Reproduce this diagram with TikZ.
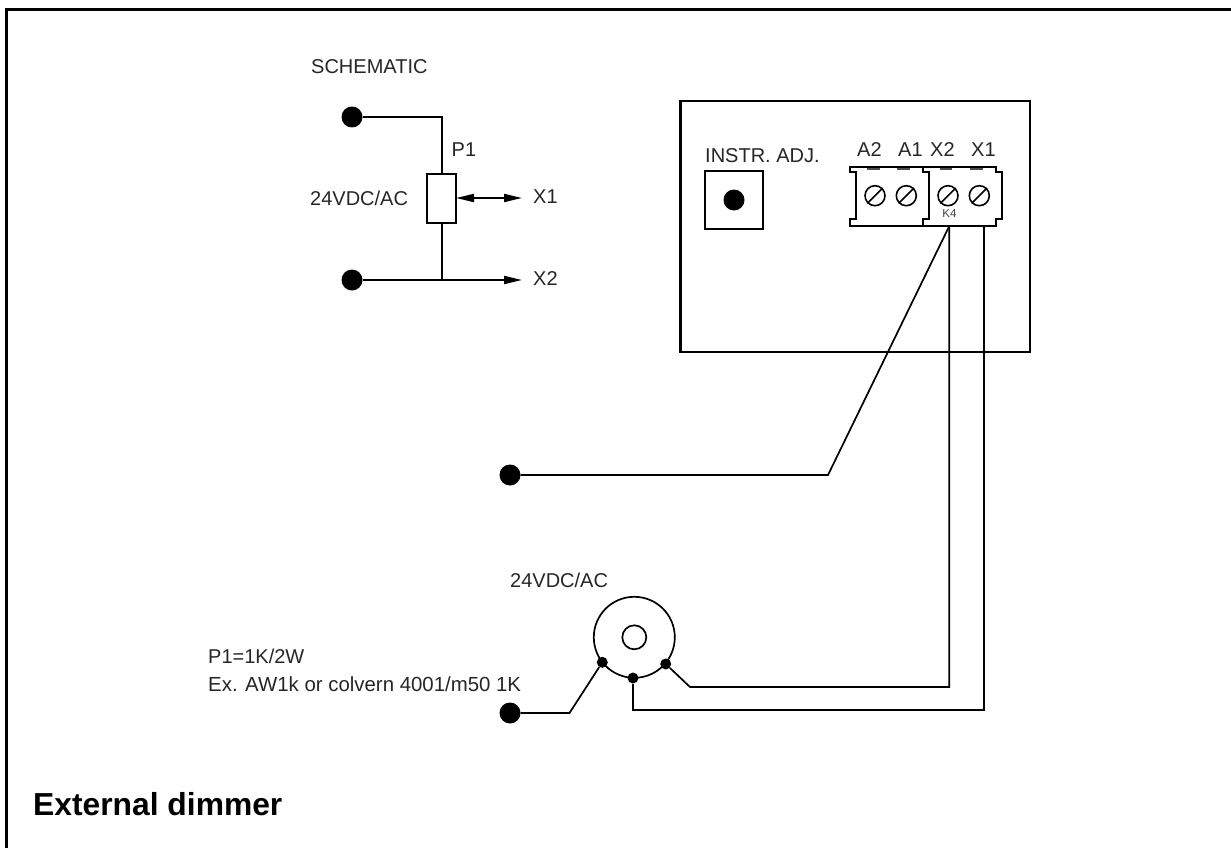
\documentclass[tikz,border=0pt]{standalone}
\usepackage{fontspec}
\setmainfont{Liberation Sans}
\usetikzlibrary{arrows.meta}
\tikzset{
  wire/.style={line width=2pt,line join=miter},
  thin wire/.style={line width=1.7pt},
  bigdot/.style={circle,fill=black,draw=none,minimum size=21pt,inner sep=0pt},
  smalldot/.style={circle,fill=black,draw=none,minimum size=11pt,inner sep=0pt},
  lab/.style={inner sep=0pt,anchor=base west,font=\fontsize{20pt}{24pt}\selectfont,text=black!85},
  box/.style={draw=black,line width=2.2pt,inner sep=0pt,outer sep=0pt},
  tip/.style={-{Triangle[length=18pt,width=8pt]}},
  block/.style={line width=2.4pt,line join=miter},
  tab/.style={line width=2pt,black!70},
  screw/.style={circle,draw=black,line width=1.6pt,minimum size=20pt,inner sep=0pt},
}
\newcommand{\screwslash}[1]{\draw[line width=1.6pt] (#1.225) -- (#1.45);}
\begin{document}
\begin{tikzpicture}[x=1pt,y=-1pt]
\useasboundingbox (0,0) rectangle (1231,848);
\clip (0,0) rectangle (1231,848);
\node[draw=black,line width=3pt,outer sep=0pt,minimum width=1260pt,minimum height=900pt,inner sep=0pt,anchor=north west] (frame) at (6,10) {};
% schematic
\node[lab] (tsch) at (311,74) {SCHEMATIC};
\node[bigdot] (d1) at (352,117) {};
\node[bigdot] (d2) at (352,280) {};
\node[box,minimum width=29pt,minimum height=49pt] (pot) at (441.5,198.5) {};
\node[lab] (tp1) at (451.5,157) {P1};
\node[lab] (t24a) at (310,205) {24VDC/AC};
\node[lab] (tx1) at (533,203) {X1};
\node[lab] (tx2) at (533,285) {X2};
\coordinate (xe1) at (522,198);
\coordinate (xe2) at (522,280);
\coordinate (j) at (441.5,280);
\draw[wire] (d1) -| (pot.north);
\draw[wire] (pot.south) -- (j);
\draw[wire] (d2) -- (j);
\draw[wire,tip] (j) -- (xe2);
\draw[wire,{Triangle[length=18pt,width=8pt]}-{Triangle[length=18pt,width=8pt]}] (pot.east |- xe1) -- (xe1);
% instrument box
\node[box,minimum width=349.5pt,minimum height=251pt,anchor=north west] (inst) at (680.5,101) {};
\node[lab] (tadj) at (705,162) {INSTR. ADJ.};
\node[box,minimum width=58pt,minimum height=58pt] (adj) at (734,200) {};
\node[bigdot] (adjd) at (734,200) {};
\node[lab] (ta2) at (857,157) {A2};
\node[lab] (ta1) at (898,157) {A1};
\node[lab] (tx2b) at (930,157) {X2};
\node[lab] (tx1b) at (971,157) {X1};
% terminal block
\coordinate (bt) at (949.3,226);
\draw[block] (850,167) -- (996,167) -- (996,172) -- (1002,172) -- (1002,219) -- (996,219) -- (996,226) -- (850,226) -- (850,219) -- (856,219) -- (856,172) -- (850,172) -- cycle;
\draw[block] (923,167) -- (923,172) -- (929,172) -- (929,219) -- (923,219) -- (923,226);
\foreach \a/\b in {867/880,897/910,940/952,970/983} \draw[tab] (\a,168.5) -- (\b,168.5);
\node[screw] (s1) at (875,195.7) {};
\node[screw] (s2) at (906.3,195.7) {};
\node[screw] (s3) at (948,195.7) {};
\node[screw] (s4) at (979.3,195.7) {};
\screwslash{s1}\screwslash{s2}\screwslash{s3}\screwslash{s4}
\node[inner sep=0pt,anchor=base,font=\fontsize{11.5pt}{13pt}\selectfont,text=black!75] (k4) at (949.5,217.7) {K4};
% wiring
\node[bigdot] (d3) at (510,475) {};
\node[bigdot] (d4) at (510,713) {};
\coordinate (k1) at (828,475);
\coordinate (t2) at (983.7,226);
\coordinate (v2) at (949.3,687);
\coordinate (v1) at (983.7,710);
\node[circle,draw=black,line width=1.7pt,minimum size=81pt,inner sep=0pt] (knob) at (634.3,637.3) {};
\node[circle,draw=black,line width=1.7pt,minimum size=24pt,inner sep=0pt] (hub) at (634.3,637.3) {};
\node[smalldot] (p1) at (602.3,662.3) {};
\node[smalldot] (p2) at (633,678) {};
\node[smalldot] (p3) at (665.7,664) {};
\coordinate (b3) at (690,687);
\coordinate (b2) at (633,710);
\coordinate (b1) at (569.5,713);
\draw[thin wire] (d3) -- (k1) -- (bt);
\draw[thin wire] (bt) -- (v2) -- (b3) -- (p3);
\draw[thin wire] (t2) -- (v1) -- (b2) -- (p2);
\draw[thin wire] (d4) -- (b1) -- (p1);
\node[lab] (t24b) at (510,587) {24VDC/AC};
\node[lab] (tp) at (208,663) {P1=1K/2W};
\node[lab,font=\fontsize{20.4pt}{24pt}\selectfont] (tex) at (208,691.7) {Ex. AW1k or colvern 4001/m50 1K};
\node[inner sep=0pt,anchor=base west,font=\bfseries\fontsize{31.8pt}{36pt}\selectfont] (title) at (33,815) {External dimmer};
\end{tikzpicture}
\end{document}
